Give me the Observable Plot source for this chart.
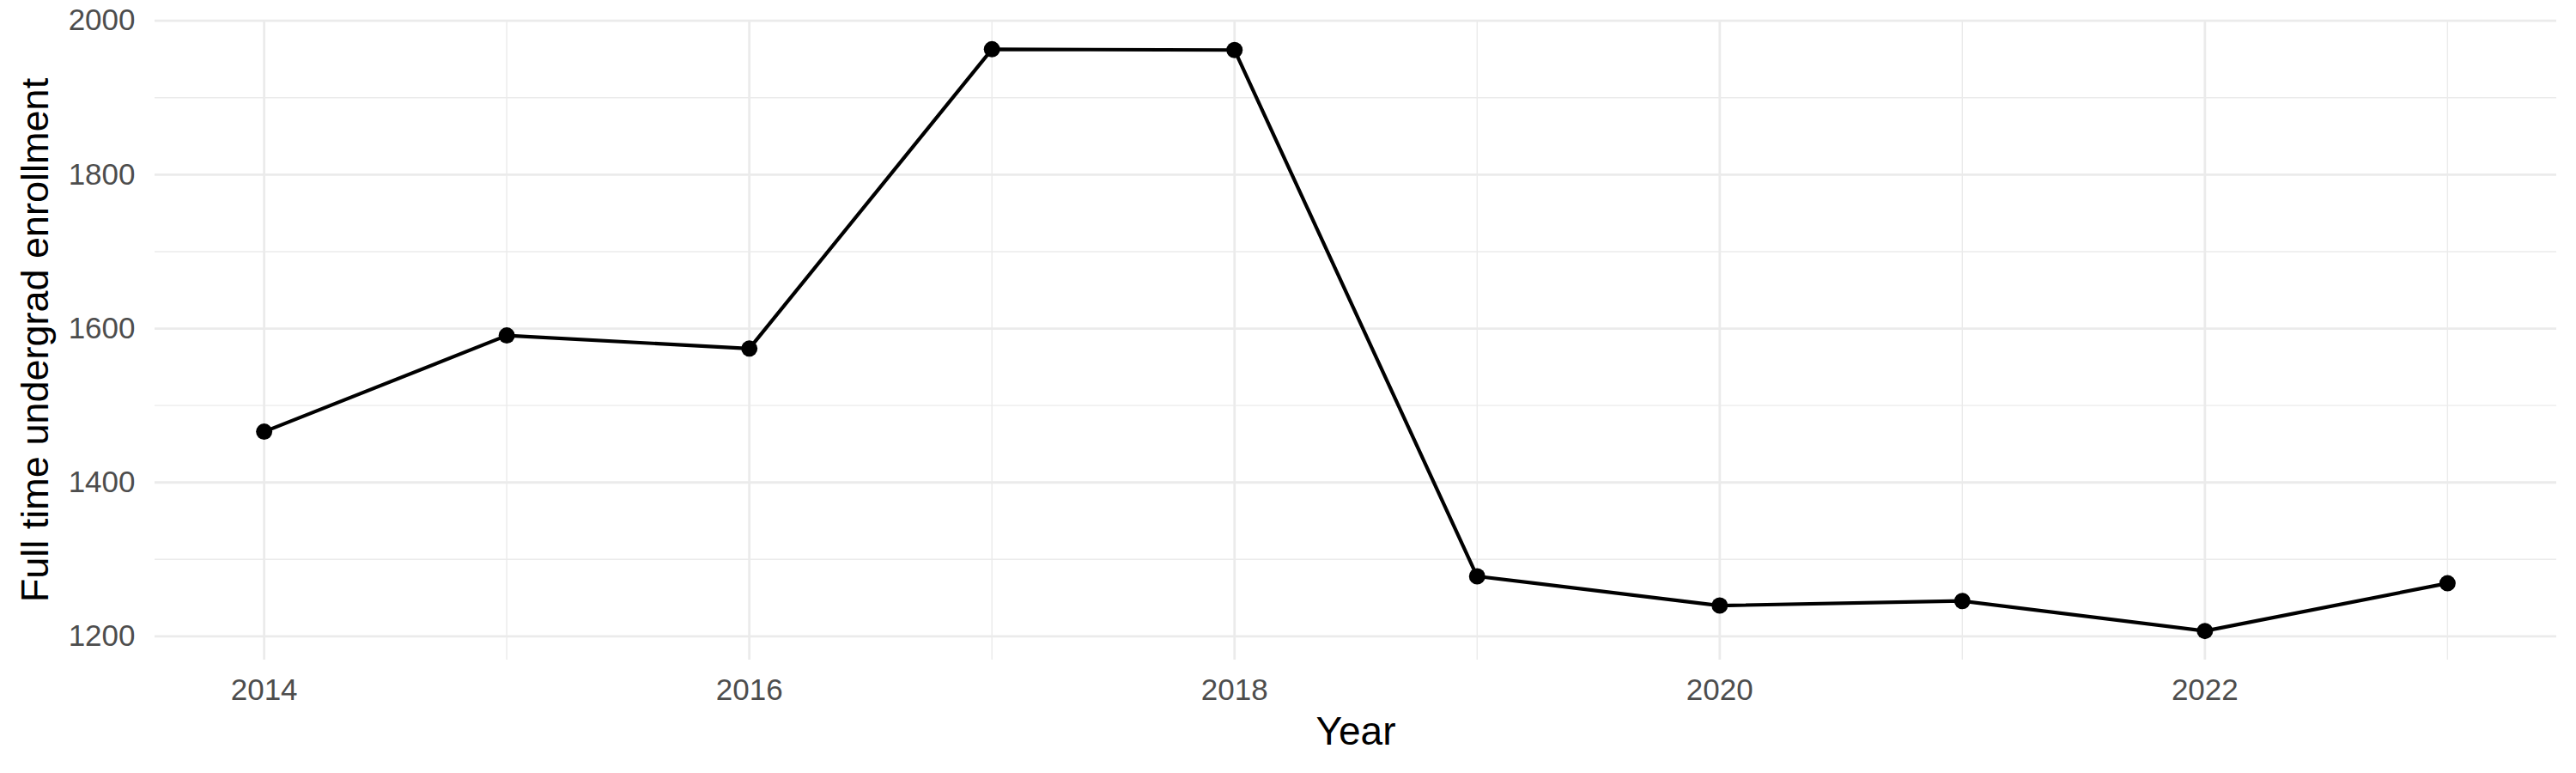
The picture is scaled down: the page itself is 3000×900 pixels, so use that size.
<!DOCTYPE html>
<html>
<head>
<meta charset="utf-8">
<script src="https://cdn.jsdelivr.net/npm/d3@7"></script>
<script src="https://cdn.jsdelivr.net/npm/@observablehq/plot@0.6"></script>
<style>
  html, body { margin: 0; padding: 0; background: #fff; }
  #chart { width: 3000px; height: 900px; }
</style>
</head>
<body>
<div id="chart"></div>
<script>
const years = [2014, 2015, 2016, 2017, 2018, 2019, 2020, 2021, 2022, 2023];
const enrollment = [1466, 1591, 1574, 1963, 1962, 1278, 1240, 1246, 1207, 1269];
const xMajor = [2014, 2016, 2018, 2020, 2022];
const xMinor = [2015, 2017, 2019, 2021, 2023];
const yMajor = [1200, 1400, 1600, 1800, 2000];
const yMinor = [1300, 1500, 1700, 1900];
const xTitle = "Year";
const yTitle = "Full time undergrad enrollment";

const data = years.map((y, i) => ({year: y, value: enrollment[i]}));

const font = "'Liberation Sans', Arial, Helvetica, sans-serif";
const grid = "#EBEBEB";

const chart = Plot.plot({
  width: 3000,
  height: 900,
  marginLeft: 180,
  marginRight: 23,
  marginTop: 23,
  marginBottom: 132,
  style: {fontFamily: font, background: "#fff"},
  x: {domain: [2013.55, 2023.45]},
  y: {domain: [1169.2, 2000.8]},
  marks: [
    Plot.ruleY(yMinor, {stroke: grid, strokeWidth: 1.4}),
    Plot.ruleX(xMinor, {stroke: grid, strokeWidth: 1.4}),
    Plot.ruleY(yMajor, {stroke: grid, strokeWidth: 2.8}),
    Plot.ruleX(xMajor, {stroke: grid, strokeWidth: 2.8}),
    Plot.axisX(xMajor, {tickSize: 0, tickPadding: 22, fontSize: 35, color: "#4D4D4D", tickFormat: d => String(d), label: null}),
    Plot.axisY(yMajor, {tickSize: 0, tickPadding: 23, fontSize: 35, color: "#4D4D4D", tickFormat: d => String(d), label: null}),
    Plot.line(data, {x: "year", y: "value", stroke: "black", strokeWidth: 4.2}),
    Plot.dot(data, {x: "year", y: "value", fill: "black", r: 9.5}),
    Plot.text([xTitle], {frameAnchor: "bottom", textAnchor: "middle", lineAnchor: "top", dy: 66, fontSize: 46, fill: "black"}),
    Plot.text([yTitle], {frameAnchor: "left", textAnchor: "middle", lineAnchor: "middle", rotate: -90, dx: -139, fontSize: 45, fill: "black"})
  ]
});
document.getElementById("chart").appendChild(chart);
</script>
</body>
</html>
